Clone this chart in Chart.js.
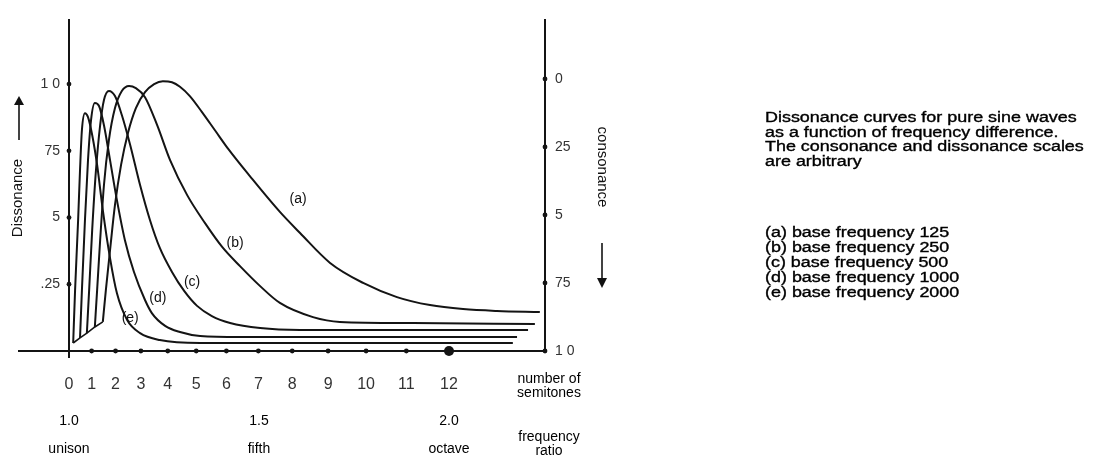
<!DOCTYPE html>
<html>
<head>
<meta charset="utf-8">
<script src="https://cdn.jsdelivr.net/npm/chart.js@4.4.0/dist/chart.umd.min.js"></script>
<style>
html,body{margin:0;padding:0;background:#fff;}
#wrap{position:relative;width:1113px;height:463px;overflow:hidden;}
#c{position:absolute;left:0;top:0;}
.cap{position:absolute;left:765px;font-family:"Liberation Sans",Arial,sans-serif;font-size:14px;color:#000;-webkit-text-stroke:0.35px #000;transform:scaleX(1.28);transform-origin:0 0;white-space:nowrap;}
.cap div{height:14.5px;line-height:14.5px;}
#legendList div{height:15px;line-height:15px;}
</style>
</head>
<body>
<div id="wrap">
<canvas id="c" width="1113" height="463"></canvas>
<div class="cap" id="caption" style="top:110px"></div>
<div class="cap" id="legendList" style="top:225px"></div>
</div>
<script>
// ---------- data ----------
const seriesNames = ['(a)', '(b)', '(c)', '(d)', '(e)'];
const baseFrequencies = [125, 250, 500, 1000, 2000];

// frequency ratio (x) and dissonance (y)
const ratioA = [1.089,1.097,1.108,1.121,1.137,1.155,1.176,1.200,1.224,1.247,1.271,1.292,1.318,1.350,1.385,1.420,1.476,1.555,1.608,1.687,1.774,1.863,1.950,2.037,2.126,2.239];
const dissA  = [0.109,0.228,0.378,0.547,0.697,0.816,0.910,0.970,1.000,1.011,1.007,0.990,0.955,0.895,0.825,0.755,0.655,0.521,0.442,0.330,0.255,0.202,0.172,0.157,0.150,0.146];

const ratioB = [1.068,1.074,1.082,1.092,1.105,1.121,1.139,1.158,1.176,1.200,1.232,1.266,1.311,1.358,1.403,1.450,1.503,1.555,1.642,1.713,1.905,2.226];
const dissB  = [0.090,0.228,0.416,0.622,0.790,0.910,0.974,0.993,0.985,0.951,0.846,0.715,0.584,0.479,0.390,0.318,0.243,0.180,0.127,0.109,0.105,0.101];

const ratioC = [1.047,1.053,1.061,1.071,1.082,1.092,1.105,1.121,1.139,1.161,1.187,1.213,1.239,1.271,1.303,1.337,1.376,1.424,1.503,1.608,2.208];
const dissC  = [0.067,0.228,0.453,0.678,0.846,0.940,0.974,0.955,0.884,0.772,0.622,0.491,0.386,0.296,0.225,0.169,0.131,0.105,0.086,0.079,0.079];

const ratioD = [1.029,1.034,1.042,1.050,1.058,1.068,1.079,1.092,1.108,1.126,1.147,1.171,1.200,1.218,1.253,1.292,1.345,1.450,2.179];
const dissD  = [0.049,0.228,0.491,0.715,0.865,0.929,0.918,0.846,0.715,0.566,0.416,0.296,0.191,0.142,0.094,0.071,0.056,0.052,0.052];

const ratioE = [1.011,1.016,1.024,1.029,1.034,1.042,1.050,1.061,1.074,1.089,1.108,1.126,1.153,1.187,1.239,1.345,1.608,2.168];
const dissE  = [0.030,0.228,0.491,0.678,0.828,0.891,0.876,0.809,0.697,0.528,0.348,0.217,0.116,0.067,0.041,0.030,0.030,0.030];

// where the (a)..(e) tags sit, in data units (ratio, dissonance)
const tagRatio = [1.603, 1.437, 1.324, 1.234, 1.161];
const tagDiss  = [0.569, 0.404, 0.258, 0.199, 0.124];

// axis ticks
const semitoneLabels = ['0','1','2','3','4','5','6','7','8','9','10','11','12'];
const semitoneRatios = [1.0000,1.0595,1.1225,1.1892,1.2599,1.3348,1.4142,1.4983,1.5874,1.6818,1.7818,1.8877,2.0000];
const ratioTicks = [1.0, 1.5, 2.0];
const ratioTickLabels = [['1.0','unison'], ['1.5','fifth'], ['2.0','octave']];
const dissTicks = [0.25, 0.5, 0.75, 1.0];
const dissTickLabels = ['.25', '5', '75', '1 0'];
const consTicks = [0, 0.25, 0.5, 0.75, 1.0];
const consTickLabels = ['0', '25', '5', '75', '1 0'];

const captionLines = [
  'Dissonance curves for pure sine waves',
  'as a function of frequency difference.',
  'The consonance and dissonance scales',
  'are arbitrary'
];

// ---------- html text ----------
document.getElementById('caption').innerHTML = captionLines.map(t => '<div>' + t + '</div>').join('');
document.getElementById('legendList').innerHTML = seriesNames.map((n, i) => '<div>' + n + ' base frequency ' + baseFrequencies[i] + '</div>').join('');

// ---------- chart ----------
const FONT = "'Liberation Sans', Arial, sans-serif";
Chart.defaults.font.family = FONT;
const INK = '#141414';

const curveRatios = [ratioA, ratioB, ratioC, ratioD, ratioE];
const curveDiss = [dissA, dissB, dissC, dissD, dissE];

const curveSets = curveRatios.map((rs, k) => ({
  label: seriesNames[k] + ' base frequency ' + baseFrequencies[k],
  data: rs.map((x, i) => ({x: x, y: curveDiss[k][i]})),
  borderColor: INK, borderWidth: 2, pointRadius: 0,
  cubicInterpolationMode: 'monotone', fill: false
}));

// the slanted line joining the starts of the curves
const startPts = curveRatios.map((rs, k) => ({x: rs[0], y: curveDiss[k][0]})).sort((p, q) => p.x - q.x);
const connector = {
  label: 'start', data: startPts, borderColor: INK, borderWidth: 1.6,
  pointRadius: 0, tension: 0, fill: false
};

const semitoneDots = {
  label: 'semitones', data: semitoneRatios.slice(1).map(x => ({x: x, y: 0})),
  showLine: false, pointRadius: ctx => (ctx.dataIndex === semitoneRatios.length - 2 ? 5 : 2.4),
  pointBackgroundColor: INK, pointBorderWidth: 0, clip: false
};

const decor = {
  id: 'decor',
  afterDraw(chart) {
    const {ctx, chartArea: ca, scales} = chart;
    const xs = scales.x, ys = scales.y, y2 = scales.y2;
    ctx.save();
    ctx.strokeStyle = INK; ctx.fillStyle = INK; ctx.lineWidth = 2;
    // baseline running left past the dissonance axis, and axis stub below baseline
    ctx.beginPath();
    ctx.moveTo(ys.left, ca.bottom); ctx.lineTo(ca.left, ca.bottom);
    ctx.moveTo(ca.left, ca.bottom); ctx.lineTo(ca.left, ca.bottom + 7);
    ctx.stroke();
    // dot tick marks on both vertical axes
    ys.ticks.forEach(t => { ctx.beginPath(); ctx.arc(ca.left, ys.getPixelForValue(t.value), 2.4, 0, Math.PI * 2); ctx.fill(); });
    y2.ticks.forEach(t => { ctx.beginPath(); ctx.arc(ca.right, y2.getPixelForValue(t.value), 2.4, 0, Math.PI * 2); ctx.fill(); });
    // curve tags
    ctx.font = '14px ' + FONT; ctx.textAlign = 'center'; ctx.textBaseline = 'middle'; ctx.fillStyle = '#111';
    seriesNames.forEach((n, i) => ctx.fillText(n, xs.getPixelForValue(tagRatio[i]), ys.getPixelForValue(tagDiss[i])));
    // Dissonance title with up arrow
    ctx.save();
    ctx.translate(ys.left, ca.top + 178); ctx.rotate(-Math.PI / 2);
    ctx.font = '15px ' + FONT; ctx.fillText('Dissonance', 0, 0);
    ctx.restore();
    ctx.lineWidth = 1.6;
    ctx.beginPath(); ctx.moveTo(ys.left + 1, ca.top + 120); ctx.lineTo(ys.left + 1, ca.top + 78); ctx.stroke();
    ctx.beginPath(); ctx.moveTo(ys.left + 1, ca.top + 76); ctx.lineTo(ys.left - 4, ca.top + 85); ctx.lineTo(ys.left + 6, ca.top + 85); ctx.closePath(); ctx.fill();
    // consonance title with down arrow
    const cx = y2.right + 17;
    ctx.save();
    ctx.translate(cx, ca.top + 147); ctx.rotate(Math.PI / 2);
    ctx.font = '15px ' + FONT; ctx.fillText('consonance', 0, 0);
    ctx.restore();
    ctx.beginPath(); ctx.moveTo(cx, ca.top + 223); ctx.lineTo(cx, ca.top + 263); ctx.stroke();
    ctx.beginPath(); ctx.moveTo(cx, ca.top + 268); ctx.lineTo(cx - 5, ca.top + 258); ctx.lineTo(cx + 5, ca.top + 258); ctx.closePath(); ctx.fill();
    // names of the horizontal scales
    ctx.font = '14px ' + FONT; ctx.fillStyle = '#000';
    const nx = ca.right + 4;
    ctx.fillText('number of', nx, ca.bottom + 28);
    ctx.fillText('semitones', nx, ca.bottom + 42);
    ctx.fillText('frequency', nx, ca.bottom + 86);
    ctx.fillText('ratio', nx, ca.bottom + 100);
    ctx.restore();
  }
};

new Chart(document.getElementById('c'), {
  type: 'line',
  data: {datasets: [...curveSets, connector, semitoneDots]},
  options: {
    responsive: false, animation: false, devicePixelRatio: 1,
    layout: {padding: {left: 18, right: 528, top: 20, bottom: 0}},
    plugins: {legend: {display: false}, tooltip: {enabled: false}},
    scales: {
      x: {
        type: 'linear', position: 'bottom', min: 1.0, max: 2.2526,
        afterBuildTicks: s => { s.ticks = semitoneRatios.map(v => ({value: v})); },
        afterFit: s => { s.height = 50; },
        ticks: {callback: (v, i) => semitoneLabels[i], autoSkip: false, maxRotation: 0, padding: 24,
                font: {size: 16}, color: '#333'},
        grid: {display: false, drawTicks: false},
        border: {display: true, color: INK, width: 2}
      },
      x2: {
        type: 'linear', axis: 'x', position: 'bottom', min: 1.0, max: 2.2526,
        afterBuildTicks: s => { s.ticks = ratioTicks.map(v => ({value: v})); },
        afterFit: s => { s.height = 62; },
        ticks: {callback: (v, i) => ratioTickLabels[i], autoSkip: false, maxRotation: 0, padding: 6,
                font: {size: 14, lineHeight: 2}, color: '#000'},
        grid: {display: false, drawTicks: false},
        border: {display: false}
      },
      y: {
        type: 'linear', position: 'left', min: 0, max: 1.24,
        afterBuildTicks: s => { s.ticks = dissTicks.map(v => ({value: v})); },
        afterFit: s => { s.width = 51; },
        ticks: {callback: (v, i) => dissTickLabels[i], padding: 9, font: {size: 14}, color: '#333'},
        grid: {display: false, drawTicks: false},
        border: {display: true, color: INK, width: 2}
      },
      y2: {
        type: 'linear', position: 'right', reverse: true, min: -0.217, max: 1.0,
        afterBuildTicks: s => { s.ticks = consTicks.map(v => ({value: v})); },
        afterFit: s => { s.width = 40; },
        ticks: {callback: (v, i) => consTickLabels[i], padding: 10, font: {size: 14}, color: '#333'},
        grid: {display: false, drawTicks: false},
        border: {display: true, color: INK, width: 2}
      }
    }
  },
  plugins: [decor]
});
</script>
</body>
</html>
